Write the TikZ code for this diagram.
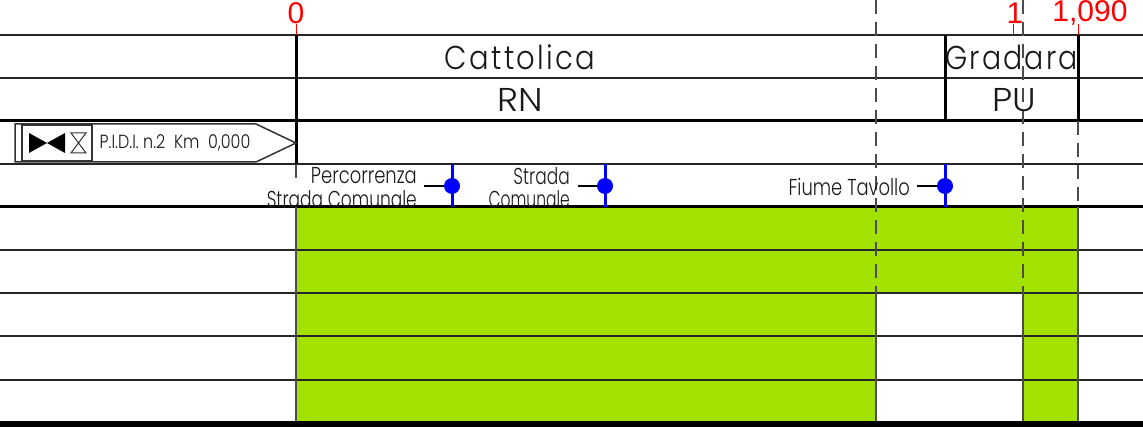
\documentclass[tikz,border=0pt]{standalone}
\usepackage{fontspec}
\usepackage{graphicx}
\setmainfont{Liberation Sans}
\newfontfamily\cad{Poppins Light}
\newcommand{\cadtext}[3]{\scalebox{#1}[1]{\fontsize{#2}{#2}\selectfont\cad #3}}
\definecolor{fieldgreen}{RGB}{162,225,0}
\definecolor{redmark}{RGB}{255,0,0}
\definecolor{bluemark}{RGB}{0,0,255}
\tikzset{
 thinrule/.style={black!85,line width=1.3pt},
 thickrule/.style={black,line width=3pt},
 post/.style={black,line width=3pt},
 edgeline/.style={black!70,line width=2pt},
 dashline/.style={black!70,line width=2pt,dash pattern=on 14pt off 8pt},
 redtick/.style={redmark,line width=1pt},
 kmlabel/.style={text=redmark,inner sep=0pt,font=\fontsize{30}{30}\selectfont},
 cadlabel/.style={inner sep=0pt,text=black!90},
 crossing/.style={circle,fill=bluemark,inner sep=0pt,minimum size=16pt},
 stem/.style={bluemark,line width=3pt},
 leader/.style={black,line width=1.1pt},
}
\begin{document}
\begin{tikzpicture}[x=1pt,y=-1pt]
\useasboundingbox (0,0) rectangle (1143,427);
% green fields
\fill[fieldgreen] (296,207) rectangle (1078,421);
\fill[white] (876,293.5) rectangle (1023,421);
% horizontal rules
\foreach \yy in {35,78,164,250,293,336,380} \draw[thinrule] (0,\yy) -- (1143,\yy);
\foreach \yy in {121,207} \draw[thickrule] (0,\yy) -- (1143,\yy);
\fill[black] (0,421) rectangle (1143,427);
% posts
\draw[post] (296,35) -- (296,164);
\draw[edgeline] (296,164) -- (296,178);
\draw[edgeline] (296,207) -- (296,421);
\draw[post] (945,35) -- (945,121);
\draw[post] (1078,35) -- (1078,121);
\draw[dashline] (876,0) -- (876,293);
\draw[dashline] (1023,0) -- (1023,293);
\draw[dashline] (1078,121) -- (1078,207);
\draw[edgeline] (876,293) -- (876,421);
\draw[edgeline] (1023,293) -- (1023,421);
\draw[edgeline] (1078,207) -- (1078,421);
% red chainage
\draw[redtick] (296,24) -- (296,35);
\draw[redtick] (1013,24) -- (1013,35);
\draw[redtick] (1078,24) -- (1078,35);
\node[kmlabel] (k0) at (296,13) {0};
\node[kmlabel] (k1) at (1015,13) {1};
\node[kmlabel] (k2) at (1090,13) {1,090};
% municipalities
\node[cadlabel] (cat) at (520,57) {\cadtext{0.88}{33}{\addfontfeature{LetterSpace=8}Cattolica}};
\node[cadlabel] (gra) at (1011.5,57) {\cadtext{0.86}{33}{\addfontfeature{LetterSpace=8}Gradara}};
\node[cadlabel] (rn) at (520,100) {\cadtext{1.08}{33}{RN}};
\node[cadlabel] (pu) at (1014,100) {\cadtext{1.08}{33}{PU}};
% flag
\draw[black!80,line width=1.5pt] (15,124) -- (256,124) -- (296,143) -- (256,162) -- (15,162) -- cycle;
\draw[black!80,line width=1.5pt] (22,125) rectangle (92,161);
\fill[black] (29,133) -- (65,153) -- (65,133) -- (29,153) -- cycle;
\draw[black!80,line width=1pt] (71,133) -- (86,133) -- (71,153) -- (86,153) -- cycle;
\node[cadlabel] (pidi) at (175,143) {\cadtext{0.84}{19}{P.I.D.I. n.2\ \ Km\ \ 0,000}};
% crossings
\coordinate (a1) at (452,164); \coordinate (a2) at (452,207);
\coordinate (b1) at (605,164); \coordinate (b2) at (605,207);
\coordinate (c1) at (945,164); \coordinate (c2) at (945,207);
\draw[stem] (a1) -- (a2);
\draw[stem] (b1) -- (b2);
\draw[stem] (c1) -- (c2);
\node[crossing] (ca) at (452,186) {};
\node[crossing] (cb) at (605,186) {};
\node[crossing] (cc) at (945,186) {};
\coordinate (la) at (424,186); \coordinate (lb) at (578,186); \coordinate (lc) at (917,186);
\draw[leader] (la) -- (ca);
\draw[leader] (lb) -- (cb);
\draw[leader] (lc) -- (cc);
\node[cadlabel,anchor=east] (t1) at (417,176) {\cadtext{0.78}{23}{Percorrenza}};
\node[cadlabel,anchor=east] (t2) at (417,199) {\cadtext{0.74}{23}{Strada Comunale}};
\node[cadlabel,anchor=east] (t3) at (570,176) {\cadtext{0.74}{23}{Strada}};
\node[cadlabel,anchor=east] (t4) at (570,199) {\cadtext{0.675}{23}{Comunale}};
\node[cadlabel,anchor=east] (t5) at (910,187) {\cadtext{0.78}{23}{Fiume Tavollo}};
\end{tikzpicture}
\end{document}
